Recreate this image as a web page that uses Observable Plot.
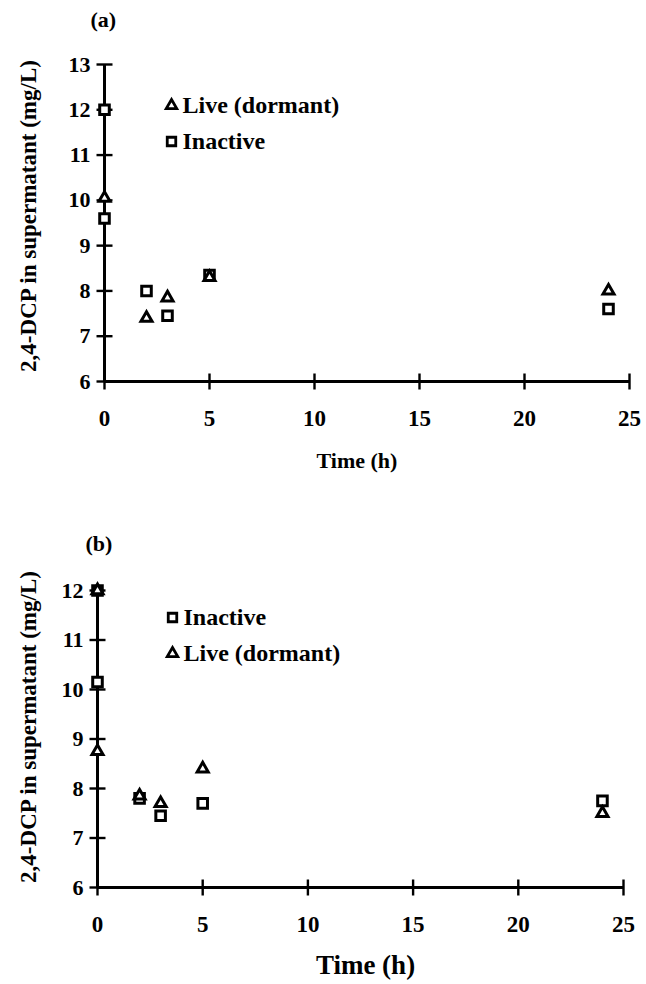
<!DOCTYPE html>
<html>
<head>
<meta charset="utf-8">
<script src="https://cdn.jsdelivr.net/npm/d3@7"></script>
<script src="https://cdn.jsdelivr.net/npm/@observablehq/plot@0.6"></script>
<style>
  html, body { margin: 0; padding: 0; background: #fff; }
  #wrap { width: 646px; }
  svg { display: block; }
</style>
</head>
<body>
<div id="wrap"></div>
<script>
// ---- Data ----
const xTicks = [0, 5, 10, 15, 20, 25];
const yTicksA = [6, 7, 8, 9, 10, 11, 12, 13];
const yTicksB = [6, 7, 8, 9, 10, 11, 12];

// Panel (a)
const liveTimeA = [0, 2, 3, 5, 24];
const liveA = [10.05, 7.4, 7.85, 8.3, 8.0];
const inactiveTimeA = [0, 0, 2, 3, 5, 24];
const inactiveA = [12.0, 9.6, 8.0, 7.45, 8.35, 7.6];

// Panel (b)
const liveTimeB = [0, 0, 2, 3, 5, 24];
const liveB = [12.0, 8.75, 7.85, 7.7, 8.4, 7.5];
const inactiveTimeB = [0, 0, 2, 3, 5, 24];
const inactiveB = [12.0, 10.15, 7.8, 7.45, 7.7, 7.75];

const labelLive = "Live (dormant)";
const labelInactive = "Inactive";
const yLabel = "2,4-DCP in supermatant (mg/L)";
const xLabel = "Time (h)";

// ---- helpers ----
const font = "'Liberation Serif', 'DejaVu Serif', serif";
const hTick = {draw(ctx, size) { const w = Math.sqrt(size / Math.PI); ctx.moveTo(-w, 0); ctx.lineTo(w, 0); }};
const vTick = {draw(ctx, size) { const w = Math.sqrt(size / Math.PI); ctx.moveTo(0, -w); ctx.lineTo(0, w); }};
const zip = (xs, ys) => xs.map((x, i) => ({x, y: ys[i]}));

function panel(cfg) {
  const {height, mt, mb, ml, mr, yMax, yTicks, live, inactive, legendOrder, tag, tagDx, tagDy,
         ylDx, ylDy, xlDx, xlDy, xlSize, legDx, legDy} = cfg;
  const legendMarks = [];
  legendOrder.forEach((k, i) => {
    const dy = legDy + i * 36;
    legendMarks.push(
      Plot.dot([0], {frameAnchor: "top-left", dx: legDx, dy,
        symbol: k === "live" ? "triangle" : "square", r: k === "live" ? 3.9 : 4.8,
        fill: "white", stroke: "black", strokeWidth: 2.8}),
      Plot.text([k === "live" ? labelLive : labelInactive], {frameAnchor: "top-left", dx: legDx + 11, dy,
        textAnchor: "start", lineAnchor: "middle", fontSize: 24, fontWeight: "bold", fill: "black"})
    );
  });
  return Plot.plot({
    width: 646, height,
    marginTop: mt, marginBottom: mb, marginLeft: ml, marginRight: mr,
    style: {fontFamily: font, background: "white", color: "black", overflow: "visible"},
    x: {domain: [0, 25]},
    y: {domain: [6, yMax]},
    marks: [
      Plot.ruleX([0], {y1: 6, y2: yMax, stroke: "black", strokeWidth: 3}),
      Plot.ruleY([6], {x1: 0, x2: 25, stroke: "black", strokeWidth: 3}),
      Plot.dot(yTicks, {x: () => 0, y: d => d, symbol: hTick, r: 8, stroke: "black", strokeWidth: 2.4, fill: "none"}),
      Plot.dot(xTicks, {x: d => d, y: () => 6, symbol: vTick, r: 8, stroke: "black", strokeWidth: 2.4, fill: "none"}),
      Plot.axisY(yTicks, {tickSize: 0, tickPadding: 14, label: null, tickFormat: d => String(d), fontSize: 22, fontWeight: "bold"}),
      Plot.axisX(xTicks, {tickSize: 0, tickPadding: 28, label: null, tickFormat: d => String(d), fontSize: 23, fontWeight: "bold"}),
      Plot.dot(zip(inactive[0], inactive[1]), {x: "x", y: "y", symbol: "square", r: 5.4, fill: "white", stroke: "black", strokeWidth: 3}),
      Plot.dot(zip(live[0], live[1]), {x: "x", y: "y", symbol: "triangle", r: 4.1, fill: "white", stroke: "black", strokeWidth: 3}),
      ...legendMarks,
      Plot.text([tag], {frameAnchor: "top-left", dx: tagDx, dy: tagDy, lineAnchor: "middle", fontSize: 22, fontWeight: "bold", fill: "black"}),
      Plot.text([yLabel], {frameAnchor: "left", dx: ylDx, dy: ylDy, rotate: -90, textAnchor: "middle", lineAnchor: "middle",
        fontSize: 23, fontWeight: "bold", fill: "black"}),
      Plot.text([xLabel], {frameAnchor: "bottom", dx: xlDx, dy: xlDy, lineAnchor: "middle", fontSize: xlSize, fontWeight: "bold", fill: "black"})
    ]
  });
}

const wrap = document.getElementById("wrap");
wrap.appendChild(panel({
  height: 490, mt: 64, mb: 109, ml: 104, mr: 17, yMax: 13, yTicks: yTicksA,
  live: [liveTimeA, liveA], inactive: [inactiveTimeA, inactiveA],
  legendOrder: ["live", "inactive"], legDx: 67, legDy: 41,
  tag: "(a)", tagDx: -14, tagDy: -45,
  ylDx: -76, ylDy: -7, xlDx: -10, xlDy: 79, xlSize: 22
}));
wrap.appendChild(panel({
  height: 494, mt: 100, mb: 97, ml: 97, mr: 23, yMax: 12, yTicks: yTicksB,
  live: [liveTimeB, liveB], inactive: [inactiveTimeB, inactiveB],
  legendOrder: ["inactive", "live"], legDx: 75, legDy: 27,
  tag: "(b)", tagDx: -12, tagDy: -47,
  ylDx: -69, ylDy: -12, xlDx: 5, xlDy: 78, xlSize: 27
}));
</script>
</body>
</html>
